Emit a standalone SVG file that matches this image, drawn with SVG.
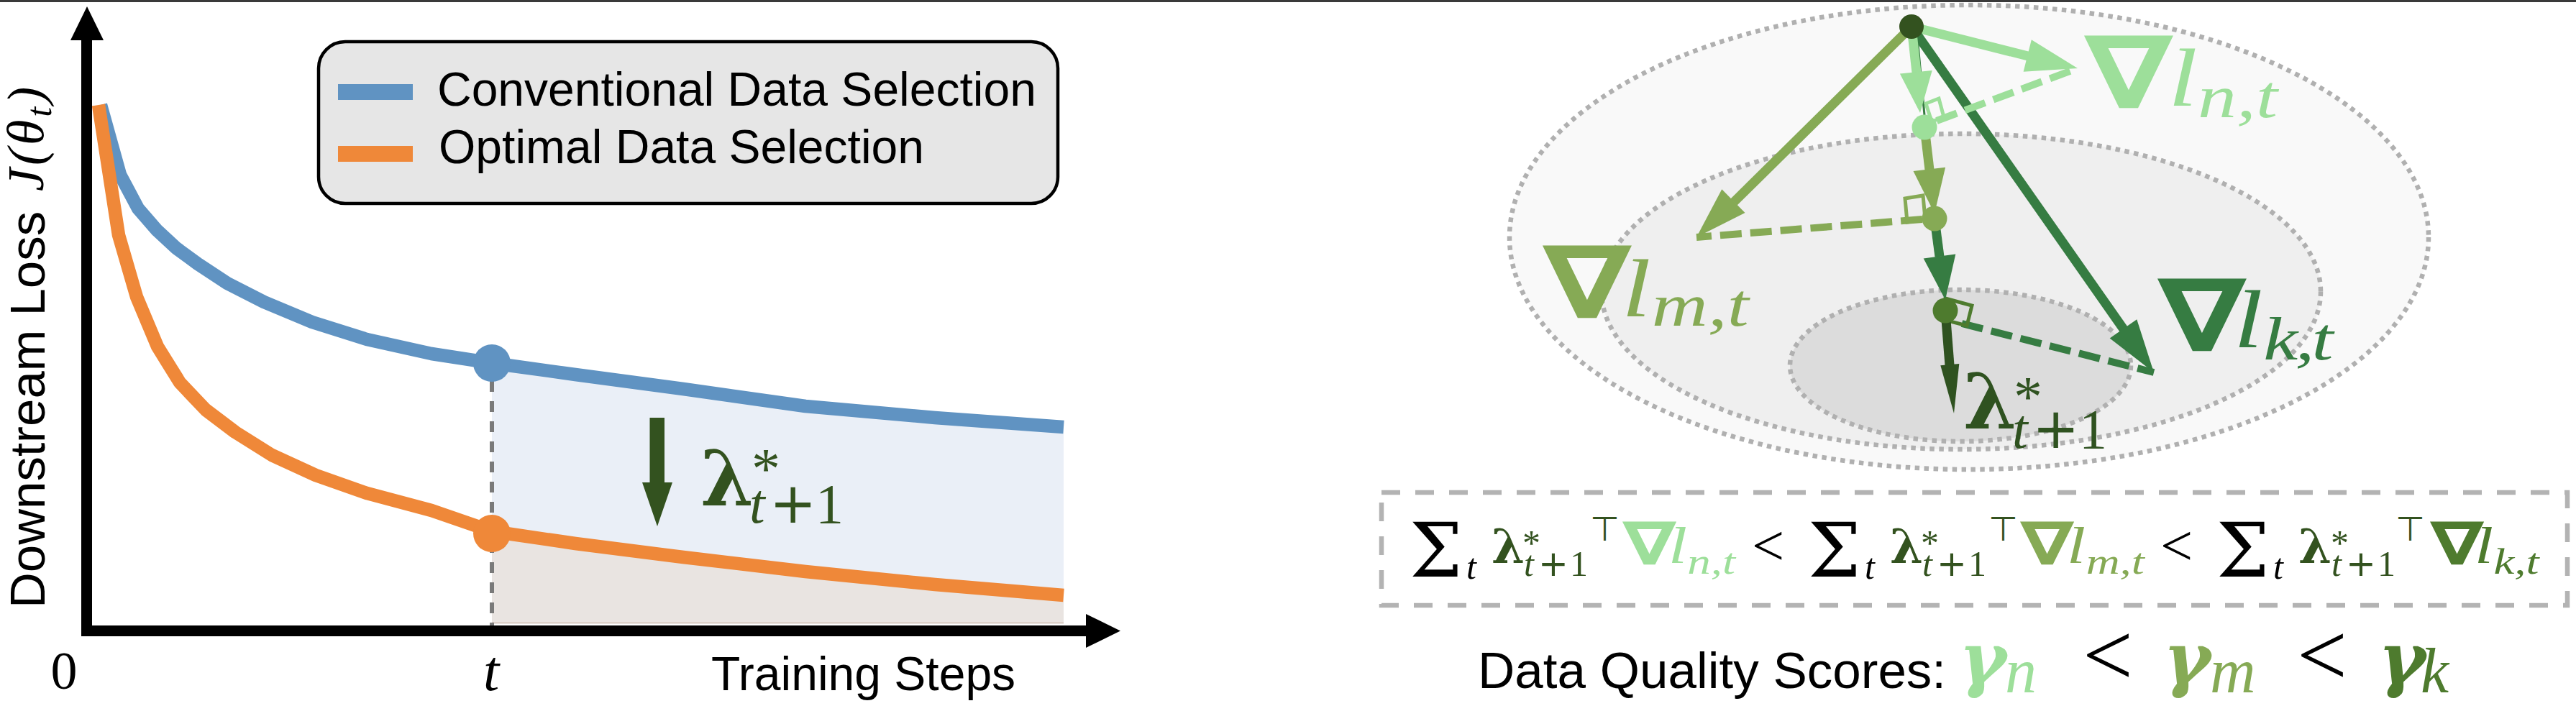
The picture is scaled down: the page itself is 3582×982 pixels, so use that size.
<svg xmlns="http://www.w3.org/2000/svg" width="3582" height="982" viewBox="0 0 3582 982">
<style>
.sans{font-family:"Liberation Sans",Arial,sans-serif;fill:#000}
.m{font-family:"Liberation Serif","DejaVu Serif",serif}
.gr{font-family:"DejaVu Serif",serif}
.it{font-style:italic}
.up{font-style:normal}
.bf{font-weight:bold}
.sym{font-family:"DejaVu Sans",sans-serif}
.dk{fill:#33521f}.lg{fill:#9ddf9a}.ol{fill:#86aa55}.gk{fill:#367c42}.fk{fill:#4e7b2e}.bk{fill:#000}.dd{fill:#2f5220}
.curve{fill:none;stroke-width:18.5;stroke-linejoin:round;stroke-linecap:butt}
.ell{stroke:#b0b0b0;stroke-width:6.5;stroke-dasharray:6.5 6.5}
.shaft{stroke-width:13;fill:none}
.dash{stroke-width:10;stroke-dasharray:30 12;fill:none}
.ra{fill:none;stroke-width:5}
</style>
<rect id="top-border" x="0" y="0" width="3582" height="3" fill="#3a3a3a"/>

<g id="plot">
  <g id="fills">
    <polygon fill="#eaeff7" points="684,505 800,521 950,541 1120,565 1300,581 1479,594 1479,828 1300,813 1120,795 950,775 800,756 684,739"/>
    <polygon fill="#e9e4e1" points="684,739 800,756 950,775 1120,795 1300,813 1479,828 1479,868 684,868"/>
    <line x1="684" y1="866" x2="1479" y2="866" stroke="#dcd0c8" stroke-width="2"/>
  </g>
  <line id="t-marker" x1="684" y1="530" x2="684" y2="870" stroke="#7a7a7a" stroke-width="6" stroke-dasharray="15 13"/>
  <g id="curve-conventional">
    <polyline class="curve" stroke="#6093c2" points="140,146 167,243 192,290 218,320 245,345 275,367 316,394 367,420 434,448 510,472 600,492 684,505 800,521 950,541 1120,565 1300,581 1479,594"/>
    <circle cx="684" cy="505" r="26" fill="#6093c2"/>
  </g>
  <g id="curve-optimal">
    <polyline class="curve" stroke="#ef8839" points="137,146 165,327 190,413 219,482 250,532 286,570 327,601 378,633 439,661 510,686 600,710 684,739 800,756 950,775 1120,795 1300,813 1479,828"/>
    <circle cx="684" cy="742" r="26" fill="#ef8839"/>
  </g>
  <g id="axes">
    <line x1="120.5" y1="50" x2="120.5" y2="885" stroke="#000" stroke-width="15"/>
    <line x1="113" y1="877.5" x2="1515" y2="877.5" stroke="#000" stroke-width="15"/>
    <polygon points="121,9 98,56 144,56" fill="#000"/>
    <polygon points="1558,877.5 1510,854 1510,901" fill="#000"/>
  </g>
  <g id="legend">
    <rect x="443" y="58" width="1028" height="225" rx="37" ry="37" fill="#e6e6e6" stroke="#000" stroke-width="4.5"/>
    <rect x="470" y="117" width="104" height="22" fill="#6093c2"/>
    <rect x="470" y="203" width="104" height="22" fill="#ef8839"/>
    <text class="sans" x="608" y="147" font-size="66">Conventional Data Selection</text>
    <text class="sans" x="610" y="227" font-size="66">Optimal Data Selection</text>
  </g>
  <g id="axis-labels">
    <text class="sans" font-size="69" transform="translate(62,846) rotate(-90)">Downstream Loss</text>
    <text class="m it" font-size="72" letter-spacing="4" transform="translate(60,266) rotate(-90)">J(θ<tspan font-size="50" dy="11">t</tspan><tspan dy="-11">)</tspan></text>
    <text class="m" x="89" y="958" font-size="74" text-anchor="middle">0</text>
    <text class="m it" x="683" y="960" font-size="80" text-anchor="middle">t</text>
    <text class="sans" x="989" y="960" font-size="66">Training Steps</text>
  </g>
  <g id="shift-arrow">
    <rect x="903.5" y="581" width="20.5" height="92" fill="#33521f"/>
    <polygon points="893,671 935,671 914,732" fill="#33521f"/>
    <text class="m dk" font-size="78"><tspan class="gr bf" x="974" y="703" font-size="106">λ</tspan><tspan x="1045" y="679" font-size="80">*</tspan><tspan class="it" x="1042" y="727">t</tspan><tspan class="sym" x="1070" y="727">+</tspan><tspan x="1134" y="727">1</tspan></text>
  </g>
</g>

<g id="landscape">
  <ellipse id="level-outer" cx="2738" cy="330" rx="639" ry="323" fill="#f9f9f9" class="ell"/>
  <ellipse id="level-middle" cx="2727" cy="405.5" rx="500" ry="219.5" fill="#efefef" class="ell"/>
  <ellipse id="level-inner" cx="2726" cy="508.5" rx="237" ry="105.5" fill="#dcdcdc" class="ell"/>
</g>

<g id="connectors">
  <line x1="2666" y1="50" x2="2676" y2="160" stroke="#367c42" stroke-width="3"/>
  <line class="shaft" stroke="#86aa55" x1="2658" y1="37" x2="2411" y2="281"/>
  <polygon class="ol" points="2394.3,263.2 2426.5,296 2359,330"/>
  <line class="shaft" stroke="#9ddf9a" x1="2658" y1="37" x2="2820" y2="78"/>
  <polygon class="lg" points="2824.8,55.2 2813.6,99.8 2889,95"/>
  <line class="shaft" stroke="#367c42" x1="2658" y1="37" x2="2953" y2="458"/>
  <polygon class="gk" points="2933.7,470.6 2971.3,444.2 2995,518"/>
  <line class="dash" stroke="#9ddf9a" x1="2693" y1="168" x2="2889" y2="95"/>
  <line class="dash" stroke="#86aa55" x1="2673" y1="305" x2="2359" y2="330"/>
  <line class="dash" stroke="#367c42" x1="2728" y1="450" x2="2995" y2="518"/>
  <polygon class="ra" stroke="#9ddf9a" points="2678,144 2696,137 2703,163 2686,169"/>
  <polygon class="ra" stroke="#86aa55" points="2649,276 2674,272 2677,305 2652,309"/>
  <polygon class="ra" stroke="#4e7b2e" points="2705,415 2742,425 2735,453 2700,444"/>
  <line class="shaft" stroke="#9ddf9a" x1="2658" y1="37" x2="2665" y2="101"/>
  <polygon class="lg" points="2641.9,102.5 2686.7,98.1 2670,157"/>
  <line class="shaft" stroke="#86aa55" x1="2676" y1="177" x2="2683" y2="236"/>
  <polygon class="ol" points="2660.5,238 2705.1,232.8 2690,297"/>
  <line class="shaft" stroke="#367c42" x1="2690" y1="304" x2="2697" y2="357"/>
  <polygon class="gk" points="2674.7,359.5 2719.3,353.5 2705,417"/>
  <line class="shaft" stroke="#2f5220" stroke-width="12" x1="2705" y1="432" x2="2711" y2="508"/>
  <polygon fill="#2f5220" points="2698.3,508.3 2724.3,506.1 2717,575"/>
</g>

<g id="node-origin"><circle cx="2658" cy="37" r="17" fill="#33521f"/></g>
<g id="node-proj-n"><circle cx="2676" cy="177" r="17.5" fill="#9ddf9a"/></g>
<g id="node-proj-m"><circle cx="2690" cy="304" r="17.5" fill="#86aa55"/></g>
<g id="node-proj-k"><circle cx="2705" cy="432" r="17.5" fill="#4e7b2e"/></g>

<g id="label-grad-m">
  <text class="m it ol" font-size="115" transform="translate(2145,442) scale(1.27,1)"><tspan class="sym bf up" x="0" y="0" font-size="140">∇</tspan><tspan x="86.6" y="-2">l</tspan><tspan x="119.5" y="11" font-size="85">m,t</tspan></text>
</g>
<g id="label-grad-n">
  <text class="m it lg" font-size="115" transform="translate(2898,150) scale(1.27,1)"><tspan class="sym bf up" x="0" y="0" font-size="140">∇</tspan><tspan x="92.1" y="-3">l</tspan><tspan x="124.5" y="13" font-size="85">n,t</tspan></text>
</g>
<g id="label-grad-k">
  <text class="m it gk" font-size="115" transform="translate(3000,488) scale(1.27,1)"><tspan class="sym bf up" x="0" y="0" font-size="140">∇</tspan><tspan x="83.5" y="-5">l</tspan><tspan x="116" y="12" font-size="85" letter-spacing="-3">k,t</tspan></text>
</g>
<g id="label-lambda">
  <text class="m dd" font-size="78"><tspan class="gr bf" x="2730" y="596" font-size="106">λ</tspan><tspan x="2800" y="579" font-size="80">*</tspan><tspan class="it" x="2798" y="623">t</tspan><tspan class="sym" x="2826" y="623">+</tspan><tspan x="2891" y="623">1</tspan></text>
</g>

<g id="formula">
  <rect x="1921" y="685" width="1649" height="157" fill="none" stroke="#b3b3b3" stroke-width="6.5" stroke-dasharray="26 21"/>
  <g id="term-n">
    <text class="gr bk" font-size="104"><tspan x="1960" y="802">Σ</tspan><tspan class="m it" x="2039" y="805" font-size="50">t</tspan></text>
    <text class="m dk" font-size="50"><tspan class="gr bf" x="2074" y="783" font-size="66">λ</tspan><tspan x="2117" y="772">*</tspan><tspan class="it" x="2119" y="801">t</tspan><tspan class="sym" x="2139" y="801">+</tspan><tspan x="2183" y="801">1</tspan></text>
    <text class="sym dk" x="2211" y="752" font-size="47">⊤</text>
    <text class="m it lg" font-size="72" transform="translate(2256,785) scale(1.3,1)"><tspan class="sym bf up" x="0" y="0" font-size="83">∇</tspan><tspan x="49.2" y="-2">l</tspan><tspan x="69.5" y="13" font-size="50">n,t</tspan></text>
    <text class="m bk" x="2436" y="786" font-size="80">&lt;</text>
  </g>
  <g id="term-m">
    <text class="gr bk" font-size="104"><tspan x="2514" y="802">Σ</tspan><tspan class="m it" x="2593" y="805" font-size="50">t</tspan></text>
    <text class="m dk" font-size="50"><tspan class="gr bf" x="2628" y="783" font-size="66">λ</tspan><tspan x="2671" y="772">*</tspan><tspan class="it" x="2673" y="801">t</tspan><tspan class="sym" x="2693" y="801">+</tspan><tspan x="2737" y="801">1</tspan></text>
    <text class="sym dk" x="2765" y="752" font-size="47">⊤</text>
    <text class="m it ol" font-size="72" transform="translate(2809,785) scale(1.3,1)"><tspan class="sym bf up" x="0" y="0" font-size="83">∇</tspan><tspan x="50" y="-2">l</tspan><tspan x="70.5" y="13" font-size="50">m,t</tspan></text>
    <text class="m bk" x="3004" y="786" font-size="80">&lt;</text>
  </g>
  <g id="term-k">
    <text class="gr bk" font-size="104"><tspan x="3082" y="802">Σ</tspan><tspan class="m it" x="3161" y="805" font-size="50">t</tspan></text>
    <text class="m dk" font-size="50"><tspan class="gr bf" x="3196" y="783" font-size="66">λ</tspan><tspan x="3241" y="772">*</tspan><tspan class="it" x="3242" y="801">t</tspan><tspan class="sym" x="3262" y="801">+</tspan><tspan x="3306" y="801">1</tspan></text>
    <text class="sym dk" x="3331" y="752" font-size="47">⊤</text>
    <text class="m it fk" font-size="72" transform="translate(3379,785) scale(1.3,1)"><tspan class="sym bf up" x="0" y="0" font-size="83">∇</tspan><tspan x="47.7" y="-2">l</tspan><tspan x="68" y="13" font-size="50">k,t</tspan></text>
  </g>
</g>

<g id="scores">
  <text class="sans" x="2055" y="957" font-size="71">Data Quality Scores:</text>
  <text class="lg" font-size="88"><tspan class="gr it bf" x="2724" y="950" font-size="100">γ</tspan><tspan class="m it" x="2788" y="963">n</tspan></text>
  <text class="m bk" x="2896" y="953" font-size="124">&lt;</text>
  <text class="ol" font-size="88"><tspan class="gr it bf" x="3008" y="950" font-size="100">γ</tspan><tspan class="m it" x="3073" y="963">m</tspan></text>
  <text class="m bk" x="3194" y="953" font-size="124">&lt;</text>
  <text class="fk" font-size="88"><tspan class="gr it bf" x="3307" y="950" font-size="100">γ</tspan><tspan class="m it" x="3366" y="963">k</tspan></text>
</g>
</svg>
